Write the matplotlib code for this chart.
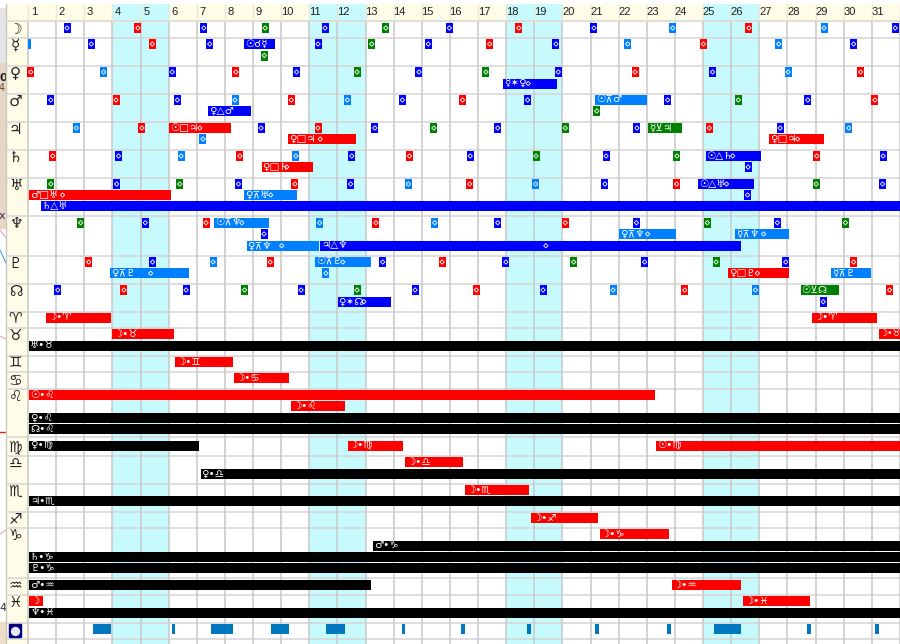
import matplotlib
matplotlib.use("Agg")
import matplotlib.pyplot as plt
from matplotlib.patches import Rectangle

plt.rcParams['font.family'] = ['DejaVu Sans', 'Noto Sans']

DAYS = list(range(1, 32))
WEEKENDS = [4, 5, 11, 12, 18, 19, 25, 26]

# small aspect ticks per lane: day of exact, colour code
MOON_DAYS = [2.39, 4.91, 7.25, 9.43, 11.56, 13.72, 15.98, 18.45, 21.12, 23.92, 26.63, 29.30, 31.83]
MOON_COLS = "brbgbgbrblrlb"
MERC_DAYS = [3.25, 5.42, 7.46, 11.31, 13.22, 15.23, 17.41, 19.77, 22.32, 25.01, 27.69, 30.35]
MERC_COLS = "brbbgbrblrlb"
MERC2_DAYS = [9.40]
MERC2_COLS = "g"
VENU_DAYS = [1.10, 3.69, 6.13, 8.39, 10.55, 12.70, 14.90, 17.28, 19.85, 22.58, 25.34, 28.02, 30.60]
VENU_COLS = "rlbrbgbgbrblr"
MARS_DAYS = [1.81, 4.13, 6.31, 8.36, 10.36, 12.35, 14.31, 16.45, 18.76, 23.74, 26.25, 28.72, 31.11]
MARS_COLS = "brblrlbrbbgbr"
MARS2_DAYS = [21.22]
MARS2_COLS = "g"
JUPI_DAYS = [2.72, 5.05, 9.29, 11.31, 13.33, 15.43, 17.70, 20.10, 22.65, 25.22, 27.74, 30.18]
JUPI_COLS = "lrbrbgbgbrbl"
JUPI2_DAYS = [7.22]
JUPI2_COLS = "l"
SATU_DAYS = [1.88, 4.22, 6.44, 8.53, 10.52, 12.51, 14.56, 16.72, 19.06, 21.55, 24.07, 29.04, 31.40]
SATU_COLS = "rblrlbrbgbgrb"
SATU2_DAYS = [26.60]
SATU2_COLS = "b"
URAN_DAYS = [1.81, 4.15, 6.39, 8.48, 10.49, 12.47, 14.52, 16.70, 19.05, 21.51, 24.06, 29.02, 31.38]
URAN_COLS = "gbgbrblrlbrgb"
URAN2_DAYS = [26.58]
URAN2_COLS = "b"
NEPT_DAYS = [2.87, 5.17, 7.33, 11.37, 13.37, 15.46, 17.70, 20.10, 22.63, 25.15, 27.64, 30.06]
NEPT_COLS = "gbrlrlbrbgbg"
NEPT2_DAYS = [9.39]
NEPT2_COLS = "b"
PLUT_DAYS = [3.16, 5.43, 7.58, 9.61, 13.61, 15.72, 17.99, 20.40, 22.92, 25.46, 27.94, 30.35]
PLUT_COLS = "rblrbrbgbgbr"
PLUT2_DAYS = [11.59]
PLUT2_COLS = "l"
NODE_DAYS = [2.06, 4.41, 6.62, 8.70, 10.71, 12.70, 14.76, 16.94, 19.31, 21.80, 24.35, 26.86, 31.63]
NODE_COLS = "brbgbgbrblrlr"
NODE2_DAYS = [29.27]
NODE2_COLS = "b"

# long aspect bars
ASP_LANE = ["merc", "venu2", "mars", "mars2", "jupi", "jupi", "jupi2", "jupi2",
            "satu", "satu2", "uran", "uran2", "uran2", "uran3",
            "nept", "nept2", "nept2", "nept3", "nept3",
            "plut", "plut2", "plut2", "plut2", "node", "node2"]
ASP_START = [8.69, 17.90, 21.16, 7.41, 6.01, 23.05, 10.25, 27.34,
             25.09, 9.31, 24.83, 1.05, 8.69, 1.46,
             7.61, 22.01, 26.13, 8.77, 11.38,
             11.21, 3.92, 25.88, 29.56, 28.47, 12.01]
ASP_END = [9.77, 19.82, 23.02, 8.92, 8.22, 24.25, 12.65, 29.29,
           27.05, 11.13, 26.81, 6.07, 10.57, 32.0,
           9.58, 24.05, 28.06, 11.36, 26.35,
           13.18, 6.71, 28.04, 30.97, 29.82, 13.90]
ASP_COLS = "bblbrgrrbrbrlbllllbllrlgb"
# sextile, semisextile and quincunx signs are in no installed font: nearest look-alikes
ASP_TEXT = ["☉☌☿", "☿✶♀", "☉⊼♂", "♀△♂", "☉□♃", "☿⊻♃", "♀□♃", "♀□♃",
            "☉△♄", "♀□♄", "☉△♅", "♂□♅", "♀⊼♅", "♄△♅",
            "☉⊼♆", "♀⊼♆", "☿⊼♆", "♀⊼♆", "♃△♆",
            "☉⊼♇", "♀⊼♇", "♀□♇", "☿⊼♇", "☉⊻☊", "♀✶☊"]
ASP_DOT = [None, 18.78, None, None, 7.11, None, 11.39, 28.36,
           26.05, 10.20, 25.83, 2.23, 9.63, None,
           8.60, 23.03, 27.15, 10.02, 19.41,
           12.19, 5.36, 26.93, None, None, 12.94]

# sign ingress bars
ING_LANE = ["arie", "arie", "taur", "taur", "taur2", "gemi", "canc",
            "leo", "leo2", "leo3", "leo4", "virg", "virg", "virg",
            "libr", "libr2", "scor", "scor2", "sagi",
            "capr", "capr2", "capr3", "capr4", "aqua", "aqua", "pisc", "pisc", "pisc2"]
ING_START = [1.64, 28.87, 4.00, 31.24, 1.05, 6.24, 8.33,
             1.05, 10.35, 1.05, 1.05, 1.05, 12.37, 23.34,
             14.41, 7.14, 16.55, 1.05, 18.89,
             21.33, 13.26, 1.05, 1.05, 1.05, 23.89, 1.05, 26.42, 1.05]
ING_END = [3.94, 31.18, 6.19, 32.0, 32.0, 8.28, 10.29,
           23.28, 12.27, 32.0, 32.0, 7.08, 14.32, 32.0,
           16.46, 32.0, 18.81, 32.0, 21.27,
           23.80, 32.0, 32.0, 32.0, 13.20, 26.35, 1.54, 28.80, 32.0]
ING_COLS = "rrrrkrrrrkkkrrrkrkrrkkkkrrrk"
ING_TEXT = ["☽•♈", "☽•♈", "☽•♉", "☽•♉", "♅•♉", "☽•♊", "☽•♋",
            "☉•♌", "☽•♌", "♀•♌", "☊•♌", "♀•♍", "☽•♍", "☉•♍",
            "☽•♎", "♀•♎", "☽•♏", "♃•♏", "☽•♐",
            "☽•♑", "♂•♑", "♄•♑", "♇•♑", "♂•♒", "☽•♒", "☽", "☽•♓", "♆•♓"]

# moon void periods on the bottom row
VOID_START = [3.30, 6.12, 7.52, 9.65, 11.59, 14.28, 16.40, 18.74, 21.16, 23.72, 25.39, 28.70, 31.10]
VOID_END = [3.94, 6.24, 8.28, 10.29, 12.27, 14.40, 16.55, 18.87, 21.30, 23.87, 26.35, 28.85, 31.24]

ROW_GLYPHS = ["☽", "☿", "♀", "♂", "♃", "♄", "♅", "♆", "♇", "☊",
              "♈", "♉", "♊", "♋", "♌", "♍", "♎", "♏", "♐", "♑", "♒", "♓"]

# layout, y runs in pixels from the top
LANE_Y = {"moon": 28, "merc": 44, "merc2": 55.5, "venu": 72, "venu2": 83.5,
          "mars": 100, "mars2": 111, "jupi": 128, "jupi2": 139,
          "satu": 156, "satu2": 167, "uran": 184, "uran2": 195, "uran3": 206,
          "nept": 222.7, "nept2": 234, "nept3": 245.7, "plut": 262, "plut2": 273.3,
          "node": 290, "node2": 301.7, "arie": 317.7, "taur": 334, "taur2": 345.7,
          "gemi": 362, "canc": 378.3, "leo": 395, "leo2": 406.3, "leo3": 418.3, "leo4": 429.3,
          "virg": 445.7, "libr": 462, "libr2": 473.7, "scor": 490, "scor2": 501.3,
          "sagi": 517.7, "capr": 534, "capr2": 545.7, "capr3": 557, "capr4": 568.3,
          "aqua": 585, "pisc": 601.3, "pisc2": 612.7, "void": 629}
ROW_LANES = ["moon", "merc", "venu", "mars", "jupi", "satu", "uran", "nept", "plut", "node",
             "arie", "taur", "gemi", "canc", "leo", "virg", "libr", "scor", "sagi", "capr", "aqua", "pisc"]
ROW_LINES = [20.7, 37.7, 65.7, 93.7, 121.7, 149.7, 177.7, 216, 255.7, 283.7, 311.7, 328,
             355.7, 372.3, 388.7, 437.3, 455.7, 483.7, 511.7, 528, 578.3, 595, 623, 639.3]
COLOURS = {"b": "#0000ff", "l": "#0080ff", "r": "#ff0000", "g": "#008000", "k": "#000000"}
PER_DAY = 28.13
XMIN = 1 - 28 / PER_DAY
XMAX = 32.0
TICK_W = 7 / PER_DAY
BAR_H = 10

fig = plt.figure(figsize=(9, 6.44), dpi=100)
ax = fig.add_axes([0, 0, 1, 1])
ax.set_xlim(XMIN, XMAX)
ax.set_ylim(644, 0)
ax.axis("off")


def px(x):
    return 1 + (x - 28) / PER_DAY


# bits of the window behind, on the far left
ax.add_patch(Rectangle((px(0), 8), 6 / PER_DAY, 55, color="#e4e4e6", zorder=0))
ax.add_patch(Rectangle((px(0), 63), 6 / PER_DAY, 165, color="#e6d6c6", zorder=0))
ax.add_patch(Rectangle((px(0), 622), 6 / PER_DAY, 22, color="#eeddc8", zorder=0))
ax.plot([px(0), px(6)], [230, 238], color="#f0a0c0", lw=0.8, zorder=1)
ax.plot([px(0), px(6)], [250, 263], color="#40a0e0", lw=0.8, zorder=1)
ax.plot([px(0), px(6)], [336, 339], color="#f0a0c0", lw=0.8, zorder=1)
ax.plot([px(0), px(6)], [432, 432], color="#e02020", lw=1.0, zorder=1)
ax.plot([px(0), px(6)], [534, 530], color="#f0a0c0", lw=0.8, zorder=1)
ax.text(px(-1), 78, "0", fontsize=8, fontweight="bold", va="center", color="#202020", zorder=1)
ax.text(px(-1), 88, "4", fontsize=7, va="center", color="#705020", zorder=1)
ax.text(px(-1), 216, "x", fontsize=8, va="center", color="#303050", zorder=1)
ax.text(px(-1), 608, "4", fontsize=8, va="center", color="#303030", zorder=1)

# left column and header
ax.add_patch(Rectangle((px(7), 4), 21 / PER_DAY, 640, color="#fffde8", zorder=2))
ax.plot([px(6.5), px(6.5)], [4, 644], color="#c8c8c0", lw=1.0, zorder=2)
ax.add_patch(Rectangle((px(28), 4), XMAX - px(28), 16.5, color="#fffde8", zorder=2))
for d in WEEKENDS:
    ax.add_patch(Rectangle((d, 20), 1, 624, color="#c6fafc", lw=0, zorder=1))
    ax.add_patch(Rectangle((d, 4), 1, 16.5, color="#c6fafc", lw=0, zorder=2))

for y in ROW_LINES:
    ax.plot([XMIN + 7 / PER_DAY, XMAX], [y, y], color="#d8d8d8", lw=1.2, zorder=3, solid_capstyle="butt")
for d in DAYS + [XMAX]:
    ax.plot([d, d], [20.7, 644], color="#c8c8c8", lw=1.1, zorder=3, solid_capstyle="butt")
    ax.plot([d, d], [4, 20.7], color="#e8e8d8", lw=1.0, zorder=3, solid_capstyle="butt")
for d in DAYS:
    ax.text(d + 0.21, 11.5, str(d), fontsize=8, family="Liberation Sans", ha="center", va="center",
            color="#202020", zorder=4)

for lane, glyph in zip(ROW_LANES, ROW_GLYPHS):
    ax.text(px(15.5), LANE_Y[lane] + 1, glyph, fontsize=11, ha="center", va="center", color="#202020", zorder=4)

ax.add_patch(Rectangle((px(9), 624), 12.5 / PER_DAY, 13, color="#000080", zorder=4))
ax.scatter([px(15)], [630.5], s=45, color="#e8e8f8", zorder=5, lw=0)


def diamond(x, y):
    ax.scatter([x], [y], marker="D", s=5, facecolors="none", edgecolors="white", linewidths=0.6, zorder=7)


# small ticks
TICKS = [("moon", MOON_DAYS, MOON_COLS), ("merc", MERC_DAYS, MERC_COLS), ("merc2", MERC2_DAYS, MERC2_COLS),
         ("venu", VENU_DAYS, VENU_COLS), ("mars", MARS_DAYS, MARS_COLS), ("mars2", MARS2_DAYS, MARS2_COLS),
         ("jupi", JUPI_DAYS, JUPI_COLS), ("jupi2", JUPI2_DAYS, JUPI2_COLS), ("satu", SATU_DAYS, SATU_COLS),
         ("satu2", SATU2_DAYS, SATU2_COLS), ("uran", URAN_DAYS, URAN_COLS), ("uran2", URAN2_DAYS, URAN2_COLS),
         ("nept", NEPT_DAYS, NEPT_COLS), ("nept2", NEPT2_DAYS, NEPT2_COLS), ("plut", PLUT_DAYS, PLUT_COLS),
         ("plut2", PLUT2_DAYS, PLUT2_COLS), ("node", NODE_DAYS, NODE_COLS), ("node2", NODE2_DAYS, NODE2_COLS)]
for lane, days, cols in TICKS:
    y = LANE_Y[lane]
    for d, c in zip(days, cols):
        ax.barh(y, TICK_W, left=d - TICK_W / 2, height=BAR_H, color=COLOURS[c], zorder=6)
        diamond(d, y)
# cut off tick at the very start of the month
ax.barh(LANE_Y["merc"], 0.09, left=1.0, height=BAR_H, color=COLOURS["l"], zorder=6)


def draw_bars(lanes, starts, ends, cols, texts):
    for lane, a, b, c, t in zip(lanes, starts, ends, cols, texts):
        y = LANE_Y[lane]
        ax.barh(y, b - a, left=a, height=BAR_H, color=COLOURS[c], zorder=6)
        size = 6.5 if a > 31 else 7.5
        ax.text(a + 0.03, y - 0.3, t, fontsize=size, ha="left", va="center", color="white", zorder=8, clip_on=True)


draw_bars(ASP_LANE, ASP_START, ASP_END, ASP_COLS, ASP_TEXT)
draw_bars(ING_LANE, ING_START, ING_END, ING_COLS, ING_TEXT)
for lane, dot in zip(ASP_LANE, ASP_DOT):
    if dot is not None:
        diamond(dot, LANE_Y[lane])

ax.barh([LANE_Y["void"]] * len(VOID_START), [b - a for a, b in zip(VOID_START, VOID_END)],
        left=VOID_START, height=BAR_H, color="#0078c0", zorder=6)

fig.savefig("out.png", dpi=100)
